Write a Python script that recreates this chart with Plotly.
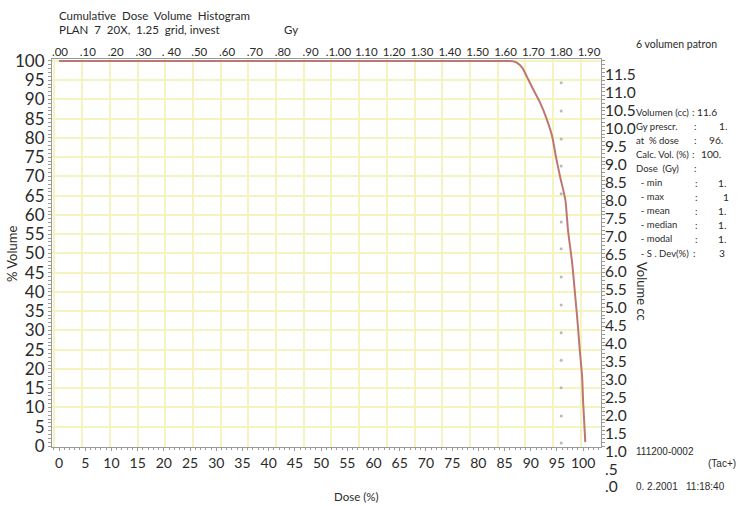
import plotly.graph_objects as go

# ---------------- data ----------------
dose_pct = [0, 84, 86.6, 87.4, 88.4, 89.3, 90.5, 91.8, 93.1, 94.1, 94.8, 95.6,
            96.6, 97.1, 97.9, 98.5, 98.9, 99.4, 99.8, 100.0, 100.4]
volume_pct = [100, 100, 99.9, 99.5, 98.2, 95.8, 92.5, 89.1, 84.7, 80.3, 75.1, 69.9,
              63.9, 56.1, 47.5, 38.7, 32.7, 24.2, 17.9, 11.2, 1.0]

marker_dose = [95.8] * 14
marker_vol = [94.3, 87.0, 79.7, 72.7, 65.5, 58.2, 51.2, 43.9, 36.6, 29.4, 22.3, 15.1, 7.8, 0.8]

dose_ticks = list(range(0, 101, 5))
vol_ticks = list(range(0, 101, 5))
gy_ticks = [round(i * 0.1, 2) for i in range(20)]
gy_ticktext = [".00", ".10", ".20", ".30", ". 40", ".50", ".60", ".70", ".80", ".90",
               ".1.00", "1.10", "1.20", "1.30", "1.40", "1.50", "1.60", "1.70", "1.80", "1.90"]
cc_ticks = [i * 0.5 for i in range(24)]
cc_ticktext = [".0", ".5"] + [f"{v:.1f}" for v in cc_ticks[2:]]

stat_labels = ["Volumen (cc)", "Gy prescr.", "at  % dose", "Calc. Vol. (%)", "Dose  (Gy)",
               "  - min", "  - max", "  - mean", "  - median", "  - modal", "  - S . Dev(%)"]
stat_values = ["11.6", "1.", "96.", "100.", "", "1.", "1", "1.", "1.", "1.", "3"]

# ---------------- layout geometry helpers ----------------
W, H = 740, 506
L, R, T, B = 52, 601, 59, 14
PLOT_BOTTOM = 447


def px(p):
    return (p - L) / (R - L)


def py(q):
    return (H - B - q) / (H - T - B)


def nb(s):
    return s.replace("  ", "&nbsp;&nbsp;")


FONT = "Lato"
GRID = "#f5f3c0"
AX = "#9a9a9a"
TXT = "#2a2a2a"

fig = go.Figure()

# gray dots
fig.add_trace(go.Scatter(x=marker_dose, y=marker_vol, mode="markers",
                         marker=dict(size=3, color="#b8b8b8"), hoverinfo="skip",
                         showlegend=False))
# DVH curve
fig.add_trace(go.Scatter(x=dose_pct, y=volume_pct, mode="lines",
                         line=dict(color="#bd7771", width=2, shape="spline", smoothing=0.6),
                         cliponaxis=False, showlegend=False))
# dummy traces for the auxiliary axes
fig.add_trace(go.Scatter(x=[], y=[], xaxis="x2", yaxis="y", showlegend=False))
fig.add_trace(go.Scatter(x=[], y=[], xaxis="x3", yaxis="y", showlegend=False))
fig.add_trace(go.Scatter(x=[], y=[], xaxis="x4", yaxis="y2", showlegend=False))

ydom0 = py(PLOT_BOTTOM)

fig.update_layout(
    width=W, height=H,
    margin=dict(l=L, r=W - R, t=T, b=B, autoexpand=False),
    paper_bgcolor="white", plot_bgcolor="rgba(0,0,0,0)",
    font=dict(family=FONT, color=TXT),
    xaxis=dict(range=[-1.34, 103.4], tickvals=dose_ticks, showgrid=False, zeroline=False,
               showline=True, linecolor=AX, linewidth=1, mirror=True,
               ticks="outside", ticklen=3, tickcolor=AX, tickangle=0, automargin=False,
               minor=dict(dtick=1, ticklen=2, tickcolor=AX, ticks="outside"),
               tickfont=dict(size=14, family=FONT), anchor="y"),
    xaxis2=dict(overlaying="x", side="top", range=[-0.009, 1.973], tickvals=gy_ticks,
                showticklabels=False, showgrid=True, gridcolor=GRID, gridwidth=2,
                zeroline=False, ticks="", anchor="y", automargin=False),
    xaxis3=dict(overlaying="x", side="top", range=[-0.0287, 1.943], tickvals=gy_ticks,
                ticktext=gy_ticktext, showgrid=False, zeroline=False, ticks="",
                tickangle=0, automargin=False,
                tickfont=dict(size=11.5, family=FONT), anchor="y"),
    xaxis4=dict(visible=False, range=[0, 1], domain=[0, 1], anchor="y2", showgrid=False),
    yaxis=dict(domain=[ydom0, 1], range=[-0.26, 100.5], tickvals=vol_ticks,
               showgrid=True, gridcolor=GRID, gridwidth=2, zeroline=False,
               showline=True, linecolor=AX, linewidth=1, mirror="allticks",
               ticks="outside", ticklen=3, tickcolor=AX, automargin=False,
               minor=dict(dtick=1, ticklen=2, tickcolor=AX, ticks="outside"),
               tickfont=dict(size=17, family=FONT), ticklabelstandoff=0),
    yaxis2=dict(domain=[0, 1], anchor="free", position=1.0, side="right",
                range=[-0.14, 11.945], tickvals=cc_ticks, ticktext=cc_ticktext,
                showgrid=False, zeroline=False, showline=False, ticks="", automargin=False,
                tickfont=dict(size=15.5, family=FONT), ticklabelstandoff=3),
)

ann = []
ann.append(dict(text=nb("Cumulative  Dose  Volume  Histogram"), x=px(57), y=py(16),
                xanchor="left", yanchor="middle", font=dict(size=11.5)))
ann.append(dict(text=nb("PLAN  7  20X,  1.25  grid, invest"), x=px(57), y=py(29),
                xanchor="left", yanchor="middle", font=dict(size=11.5)))
ann.append(dict(text="Gy", x=px(282), y=py(29), xanchor="left", yanchor="middle",
                font=dict(size=11.5)))
ann.append(dict(text="6 volumen patron", x=px(634), y=py(44), xanchor="left", yanchor="middle",
                font=dict(size=10.5)))
ann.append(dict(text="% Volume", x=px(12), y=py(254), textangle=-90, xanchor="center",
                yanchor="middle", font=dict(size=13)))
ann.append(dict(text="Volume cc", x=px(642), y=py(291), textangle=90, xanchor="center",
                yanchor="middle", font=dict(size=13)))
ann.append(dict(text="Dose (%)", x=px(356), y=py(496), xanchor="center", yanchor="middle",
                font=dict(size=11.5)))

value_x = [695, 717, 707, 699, 0, 716, 721, 716, 716, 716, 717]
colon_x = [690, 692, 692, 690, 692, 693, 693, 693, 693, 693, 691]
for i, (lab, val) in enumerate(zip(stat_labels, stat_values)):
    yy = py(112 + i * 14.1)
    ann.append(dict(text=nb(lab), x=px(634), y=yy, xanchor="left",
                    yanchor="middle", font=dict(size=9.5)))
    ann.append(dict(text=":", x=px(colon_x[i]), y=yy, xanchor="left", yanchor="middle",
                    font=dict(size=10)))
    if val:
        ann.append(dict(text=val, x=px(value_x[i]), y=yy, xanchor="left", yanchor="middle",
                        font=dict(size=10.2)))

ann.append(dict(text="111200-0002", x=px(634), y=py(451), xanchor="left", yanchor="middle",
                font=dict(size=10, family="Liberation Sans")))
ann.append(dict(text="(Tac+)", x=px(706), y=py(463), xanchor="left", yanchor="middle",
                font=dict(size=10, family="Liberation Sans")))
ann.append(dict(text="0. 2.2001&nbsp;&nbsp;&nbsp;11:18:40", x=px(634), y=py(486), xanchor="left",
                yanchor="middle", font=dict(size=10, family="Liberation Sans")))

for a in ann:
    a.update(xref="paper", yref="paper", showarrow=False)
fig.update_layout(annotations=ann)

fig.write_html("out.html", config={"displayModeBar": False},
               post_script="document.body.style.margin='0';")
